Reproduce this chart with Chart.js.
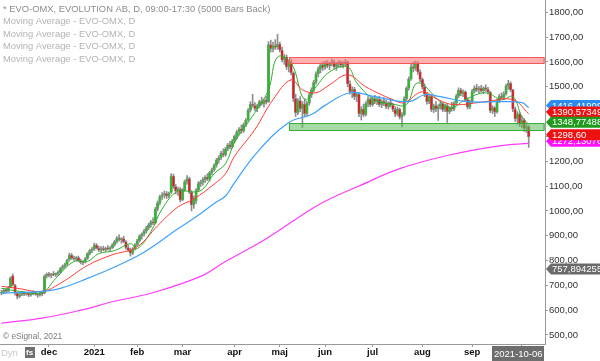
<!DOCTYPE html>
<html>
<head>
<meta charset="utf-8">
<script src="https://cdn.jsdelivr.net/npm/chart.js@4/dist/chart.umd.min.js"></script>
<style>
  html, body { margin: 0; padding: 0; background: #fff; }
  canvas { display: block; }
</style>
</head>
<body>
<canvas id="chart" width="600" height="361"></canvas>
<script>
// daily bars, Nov 2 2020 .. Oct 6 2021 (bar index = trading day)
const opens = [
  668,672,682,676,692,738,700,668,655,662,670,664,668,660,666,672,664,660,668,668,738,
  744,740,746,742,748,752,768,776,784,804,822,810,806,812,800,792,796,808,828,840,
  846,862,850,842,848,844,850,846,852,864,876,890,884,888,876,852,842,830,846,
  864,880,898,906,918,932,944,956,952,1008,1032,1058,1064,1070,1060,1074,1140,1098,1080,1088,
  1044,1084,1118,1130,1076,1024,1040,1084,1110,1116,1126,1136,1128,1154,1166,1184,1204,1214,1232,1226,1250,1266,1258,
  1282,1300,1318,1330,1322,1348,1366,1406,1430,1424,1412,1424,1440,1432,1446,1440,1670,1654,1666,1660,
  1672,1648,1608,1620,1580,1600,1556,1452,1396,1444,1412,1430,1392,1434,1468,1488,1518,1552,1572,1588,
  1578,1596,1584,1592,1600,1580,1590,1598,1586,1594,1600,1512,1480,1490,1460,1470,1392,1410,1388,1432,1450,
  1428,1452,1440,1450,1428,1442,1434,1420,1436,1426,1408,1390,1410,1378,1388,1452,1494,1532,1580,1574,1596,1560,
  1530,1500,1470,1440,1462,1408,1424,1410,1420,1432,1408,1424,1400,1416,1410,1434,1462,1486,1472,1480,1448,1418,
  1440,1482,1496,1488,1494,1484,1496,1490,1478,1404,1416,1398,1444,1462,1456,1472,1504,1514,1488,1410,1372,1390,
  1350,1366,1332,1340
];
const highs = [
  680,686,688,696,734,746,704,672,668,676,674,672,670,672,678,674,668,672,672,742,750,
  752,748,756,750,758,772,782,790,806,830,828,818,816,818,806,800,812,832,846,852,
  870,868,858,856,858,854,860,856,868,882,896,904,892,898,880,862,850,852,868,
  886,904,912,926,938,950,962,972,1014,1040,1064,1074,1080,1078,1076,1150,1148,1106,1096,1094,
  1090,1124,1142,1136,1082,1060,1090,1118,1124,1134,1142,1150,1160,1172,1190,1212,1222,1240,1250,1256,1272,1280,1288,
  1306,1324,1336,1346,1354,1372,1412,1440,1470,1436,1430,1446,1458,1450,1462,1682,1688,1680,1690,1712,
  1680,1660,1630,1628,1606,1610,1560,1470,1452,1460,1440,1452,1440,1474,1496,1526,1560,1580,1596,1600,
  1604,1606,1600,1612,1608,1598,1606,1604,1602,1610,1604,1524,1500,1498,1478,1476,1420,1430,1440,1460,1456,
  1460,1466,1458,1462,1448,1456,1446,1440,1450,1434,1420,1418,1414,1396,1460,1500,1540,1590,1600,1604,1602,1568,
  1536,1512,1478,1470,1468,1430,1440,1428,1440,1436,1430,1432,1420,1438,1440,1470,1496,1494,1488,1484,1456,1446,
  1490,1504,1510,1502,1506,1500,1508,1498,1482,1424,1420,1450,1470,1476,1480,1510,1526,1520,1490,1418,1400,1396,
  1380,1372,1350,1344
];
const lows = [
  662,668,670,674,690,698,660,645,650,658,658,660,654,656,662,660,652,656,658,666,730,
  734,730,738,736,740,748,762,770,778,798,804,800,798,796,786,782,790,804,822,832,
  840,846,836,834,840,836,842,838,848,858,870,878,870,872,846,836,818,824,842,
  858,874,886,898,910,924,934,944,948,1000,1024,1046,1052,1050,1052,1070,1090,1068,1062,1036,
  1040,1078,1108,1070,1000,1010,1030,1078,1098,1104,1114,1122,1120,1146,1160,1176,1192,1206,1218,1220,1242,1250,1252,
  1274,1290,1306,1312,1316,1340,1360,1398,1418,1404,1400,1416,1426,1418,1430,1436,1640,1640,1650,1652,
  1640,1600,1590,1570,1560,1548,1440,1380,1388,1400,1336,1380,1384,1426,1456,1480,1510,1540,1556,1566,
  1570,1576,1568,1584,1574,1566,1580,1578,1576,1584,1500,1470,1456,1448,1440,1380,1366,1380,1382,1420,1420,
  1422,1432,1428,1420,1416,1424,1412,1410,1418,1400,1380,1384,1370,1338,1384,1444,1486,1526,1560,1566,1550,1520,
  1490,1460,1430,1432,1400,1396,1400,1364,1410,1400,1400,1356,1392,1402,1404,1428,1456,1464,1460,1440,1410,1412,
  1436,1474,1480,1476,1478,1472,1482,1470,1396,1392,1380,1394,1436,1448,1450,1466,1490,1480,1400,1360,1350,1340,
  1334,1320,1316,1256
];
const closes = [
  672,680,676,690,730,702,668,655,662,670,664,668,660,666,672,664,660,668,665,736,744,
  740,746,742,748,752,768,776,784,802,822,810,806,812,800,792,796,808,828,840,846,
  862,850,842,848,844,850,846,852,864,876,890,884,888,876,852,842,830,846,864,
  880,898,906,918,932,944,956,950,1008,1032,1058,1064,1070,1060,1072,1140,1098,1080,1088,1044,
  1084,1118,1130,1076,1024,1048,1084,1110,1116,1126,1136,1128,1154,1166,1184,1204,1214,1232,1226,1250,1266,1258,1282,
  1300,1318,1330,1322,1348,1366,1406,1430,1424,1412,1424,1440,1432,1446,1438,1670,1654,1666,1660,1672,
  1648,1608,1620,1580,1600,1556,1452,1396,1444,1412,1430,1392,1434,1468,1488,1518,1552,1572,1588,1578,
  1596,1584,1592,1600,1580,1590,1598,1586,1594,1600,1512,1480,1490,1460,1470,1392,1410,1388,1432,1450,1428,
  1452,1440,1450,1428,1442,1434,1420,1436,1426,1408,1390,1410,1378,1388,1452,1494,1532,1580,1574,1596,1560,1530,
  1500,1470,1440,1462,1408,1424,1410,1420,1432,1408,1424,1400,1416,1410,1434,1462,1486,1472,1480,1448,1418,1440,
  1482,1496,1488,1494,1484,1496,1490,1478,1404,1416,1398,1444,1462,1456,1472,1504,1514,1488,1410,1372,1390,1350,
  1366,1332,1340,1298.6
];

// moving averages: [bar index, value]
const maGreen = [[0,688],[8,676],[18,672],[24,728],[32,796],[38,796],[43,828],[50,840],[57,868],[60,848],
  [66,916],[71,1008],[78,1080],[85,1076],[89,1088],[94,1150],[99,1190],[103,1276],[112,1396],[118,1488],
  [122,1620],[128,1596],[134,1448],[139,1500],[145,1560],[153,1580],[157,1516],[165,1448],[174,1428],
  [179,1428],[184,1516],[194,1440],[199,1416],[205,1448],[214,1476],[221,1448],[226,1460],[230,1380],[233,1349]];
const maRed = [[0,696],[7,688],[18,676],[26,708],[38,780],[48,820],[60,856],[69,940],[78,1016],[85,1048],
  [94,1108],[99,1150],[103,1220],[112,1328],[120,1448],[128,1528],[133,1488],[139,1476],[145,1508],
  [153,1548],[161,1500],[173,1448],[178,1436],[186,1480],[193,1448],[200,1428],[214,1440],[226,1448],[233,1391]];
const maBlue = [[0,668],[18,676],[26,688],[38,728],[49,770],[62,828],[78,928],[86,976],[94,1030],[99,1060],
  [102,1100],[113,1236],[127,1356],[137,1388],[143,1425],[154,1476],[165,1460],[180,1440],[187,1468],
  [194,1460],[206,1440],[221,1440],[230,1436],[233,1416]];
const maMagenta = [[0,548],[18,568],[35,600],[50,636],[66,668],[88,736],[99,796],[117,888],[137,1008],
  [145,1048],[158,1100],[176,1170],[198,1225],[220,1262],[233,1272]];

// support / resistance zones [from bar, low, high]
const resistZone = [127, 1595, 1619];
const supportZone = [127, 1327, 1354];

const yTicks = [500,600,700,800,900,1000,1100,1200,1300,1400,1500,1600,1700,1800];
const monthTicks = [21,41,60,80,103,123,143,164,186,208,230];
const monthLabels = ['dec','2021','feb','mar','apr','maj','jun','jul','aug','sep',''];

const tagValues = [1416.41909, 1390.57349, 1348.77488, 1272.13076, 1298.60, 757.894255];
const tagLabels = ['1416,41909','1390,57349','1348,77488','1272,13076','1298,60','757,894255'];
const tagColors = ['#2a8cf0','#ee1111','#1f9a1f','#ff10ff','#ee1111','#6a6a6a'];

const legendLines = [
  '* EVO-OMX, EVOLUTION AB, D, 09:00-17:30 (5000 Bars Back)',
  'Moving Average - EVO-OMX, D',
  'Moving Average - EVO-OMX, D',
  'Moving Average - EVO-OMX, D',
  'Moving Average - EVO-OMX, D'
];

const FONT = '"Liberation Sans", Arial, sans-serif';
const idx = closes.map((c, i) => i);

const overlay = {
  id: 'overlay',
  afterDatasetsDraw(chart) {
    const { ctx, chartArea, scales: { x, y } } = chart;
    const zones = [
      [resistZone, 'rgba(255,110,110,0.55)', '#f05a5a'],
      [supportZone, 'rgba(90,190,90,0.55)', '#3caa3c']
    ];
    ctx.save();
    zones.forEach(([z, fill, edge]) => {
      const x0 = Math.round(x.getPixelForValue(z[0])) + 0.5;
      const yTop = Math.round(y.getPixelForValue(z[2])) + 0.5;
      const yBot = Math.round(y.getPixelForValue(z[1])) + 0.5;
      ctx.fillStyle = fill;
      ctx.fillRect(x0, yTop, chartArea.right - x0, yBot - yTop);
      ctx.strokeStyle = edge;
      ctx.lineWidth = 1;
      ctx.strokeRect(x0, yTop, chartArea.right - x0 - 1, yBot - yTop);
    });
    ctx.restore();
  },
  afterDraw(chart) {
    const { ctx, chartArea, scales: { y } } = chart;
    ctx.save();
    // legend text
    ctx.font = '9.4px ' + FONT;
    ctx.textBaseline = 'middle';
    legendLines.forEach((t, i) => {
      ctx.fillStyle = i === 0 ? '#8c8c8c' : '#b4b4b4';
      ctx.fillText(t, 3, 9 + i * 12.6);
    });
    // price tags on the right axis
    ctx.font = '9.5px ' + FONT;
    tagValues.forEach((v, i) => {
      const py = y.getPixelForValue(v) - 2;
      const x0 = chartArea.right + 1;
      ctx.fillStyle = tagColors[i];
      ctx.beginPath();
      ctx.moveTo(x0, py);
      ctx.lineTo(x0 + 5, py - 5.5);
      ctx.lineTo(600, py - 5.5);
      ctx.lineTo(600, py + 5.5);
      ctx.lineTo(x0 + 5, py + 5.5);
      ctx.closePath();
      ctx.fill();
      ctx.fillStyle = '#fff';
      ctx.fillText(tagLabels[i], x0 + 6, py + 0.5);
    });
    // copyright
    ctx.font = '8.3px ' + FONT;
    ctx.fillStyle = '#7a7a7a';
    ctx.fillText('\u00a9 eSignal, 2021', 3, 337);
    // bottom-left
    ctx.font = '9.5px ' + FONT;
    ctx.fillStyle = '#c8c8c8';
    ctx.fillText('Dyn', 1, 353);
    ctx.fillStyle = '#707070';
    ctx.fillRect(25, 347, 10, 11);
    ctx.fillStyle = '#fff';
    ctx.font = 'bold 8px ' + FONT;
    ctx.fillText('fs', 26, 353);
    // last date box
    ctx.fillStyle = '#6e6e6e';
    ctx.fillRect(492, 346, 52, 15);
    ctx.fillStyle = '#fff';
    ctx.font = '9.5px ' + FONT;
    ctx.fillText('2021-10-06', 494, 354);
    ctx.restore();
  }
};

function noPad(s) {
  s.paddingTop = 0; s.paddingBottom = 0; s.paddingLeft = 0; s.paddingRight = 0;
}

new Chart(document.getElementById('chart'), {
  type: 'bar',
  data: {
    datasets: [
      {
        type: 'line', data: maMagenta.map(p => ({ x: p[0], y: p[1] })),
        borderColor: '#ff3cff', borderWidth: 1.2, pointRadius: 0, tension: 0.4, order: 0
      },
      {
        type: 'line', data: maBlue.map(p => ({ x: p[0], y: p[1] })),
        borderColor: '#3da2ff', borderWidth: 1.2, pointRadius: 0, tension: 0.4, order: 0
      },
      {
        type: 'line', data: maRed.map(p => ({ x: p[0], y: p[1] })),
        borderColor: '#ff3a3a', borderWidth: 1, pointRadius: 0, tension: 0.4, order: 0
      },
      {
        type: 'line', data: maGreen.map(p => ({ x: p[0], y: p[1] })),
        borderColor: '#2fae2f', borderWidth: 1, pointRadius: 0, tension: 0.4, order: 0
      },
      {
        // candle bodies
        data: idx.map(i => ({ x: i, y: [opens[i], closes[i]] })),
        backgroundColor: idx.map(i => closes[i] >= opens[i] ? '#22c022' : '#e01c1c'),
        borderColor: '#8e8e8e', borderWidth: 0.7, borderSkipped: false,
        barThickness: 2.6, minBarLength: 1, grouped: false, order: 1
      },
      {
        // wicks
        data: idx.map(i => ({ x: i, y: [lows[i], highs[i]] })),
        backgroundColor: '#8e8e8e',
        barThickness: 1, grouped: false, order: 2
      }
    ]
  },
  options: {
    responsive: false,
    animation: false,
    devicePixelRatio: 1,
    layout: { padding: 0, autoPadding: false },
    plugins: { legend: { display: false }, tooltip: { enabled: false } },
    scales: {
      x: {
        type: 'linear', min: -0.65, max: 240.2, offset: false,
        afterBuildTicks: (s) => { s.ticks = monthTicks.map(v => ({ value: v })); },
        afterFit: (s) => { s.height = 17; noPad(s); },
        border: { color: '#999' },
        grid: { drawOnChartArea: false, offset: false, tickLength: 3, color: '#999' },
        ticks: {
          autoSkip: false, maxRotation: 0, padding: 0, color: '#111',
          font: { family: FONT, size: 9.5, weight: 'bold' },
          callback: (v) => monthLabels[monthTicks.indexOf(v)]
        }
      },
      y: {
        position: 'right', min: 463.7, max: 1849.6,
        afterBuildTicks: (s) => { s.ticks = yTicks.map(v => ({ value: v })); },
        afterFit: (s) => { s.width = 55; noPad(s); },
        border: { color: '#999' },
        grid: { drawOnChartArea: false, tickLength: 3, color: '#999' },
        ticks: {
          padding: 1, color: '#333',
          font: { family: FONT, size: 9.5 },
          callback: (v) => v.toFixed(2).replace('.', ',')
        }
      }
    }
  },
  plugins: [overlay]
});
</script>
</body>
</html>
